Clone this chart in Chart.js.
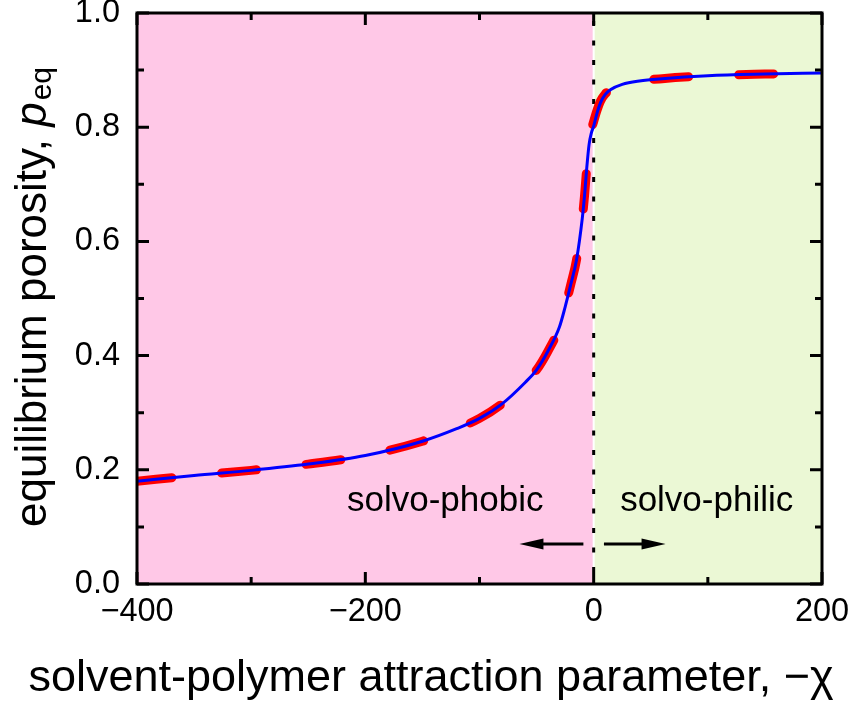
<!DOCTYPE html>
<html>
<head>
<meta charset="utf-8">
<script src="https://cdn.jsdelivr.net/npm/chart.js@4/dist/chart.umd.min.js"></script>
<style>
  html, body { margin: 0; padding: 0; background: #fff; }
  #wrap { width: 855px; height: 705px; }
</style>
</head>
<body>
<div id="wrap"><canvas id="chart" width="855" height="705"></canvas></div>
<script>
// Data
const chiValues = [-400, -350, -300, -250, -200, -150, -120, -100, -80, -60, -50, -40, -30, -25, -20, -15, -10, -8, -6, -4, -2, 0, 3, 6, 10, 15, 25, 40, 60, 100, 150, 200];
const porosityModel = [0.180, 0.190, 0.199, 0.210, 0.225, 0.250, 0.272, 0.290, 0.316, 0.353, 0.375, 0.408, 0.450, 0.485, 0.525, 0.568, 0.640, 0.680, 0.730, 0.770, 0.790, 0.802, 0.825, 0.843, 0.857, 0.866, 0.875, 0.881, 0.885, 0.890, 0.893, 0.895];
const porosityFit = [0.180, 0.190, 0.199, 0.210, 0.225, 0.250, 0.272, 0.290, 0.316, 0.353, 0.375, 0.408, 0.450, 0.485, 0.525, 0.568, 0.640, 0.680, 0.730, 0.770, 0.795, 0.810, 0.830, 0.846, 0.858, 0.866, 0.875, 0.881, 0.885, 0.890, 0.893, 0.895];

const xMajorTicks = [-400, -200, 0, 200];
const xMinorTicks = [-300, -100, 100];
const yMajorTicks = [0, 0.2, 0.4, 0.6, 0.8, 1.0];
const yMinorTicks = [0.1, 0.3, 0.5, 0.7, 0.9];

const regionLabels = ['solvo-phobic', 'solvo-philic'];

const FONT = "Arial, 'Liberation Sans', sans-serif";

function toPoints(ys) {
    return chiValues.map((x, i) => ({ x: x, y: ys[i] }));
}

const decorPlugin = {
    id: 'decor',
    beforeDatasetsDraw(chart) {
        const { ctx, chartArea: a, scales: { x, y } } = chart;
        const x0 = x.getPixelForValue(0);
        ctx.save();
        // background regions
        ctx.fillStyle = '#ffc8e7';
        ctx.fillRect(a.left, a.top, x0 - 1 - a.left, a.bottom - a.top);
        ctx.fillStyle = '#ebf8d5';
        ctx.fillRect(x0 + 1, a.top, a.right - x0 - 1, a.bottom - a.top);
        // dotted line at chi = 0
        ctx.strokeStyle = '#000';
        ctx.lineWidth = 3;
        ctx.setLineDash([5, 14.5]);
        ctx.beginPath();
        ctx.moveTo(x0, a.top + 8);
        ctx.lineTo(x0, a.bottom);
        ctx.stroke();
        ctx.restore();
    },
    afterDatasetsDraw(chart) {
        const { ctx, chartArea: a, scales: { x, y } } = chart;
        ctx.save();
        // frame
        ctx.strokeStyle = '#000';
        ctx.lineWidth = 3;
        ctx.strokeRect(a.left, a.top, a.right - a.left, a.bottom - a.top);

        // inward ticks on all four sides
        const tickX = (v, len) => {
            const px = x.getPixelForValue(v);
            ctx.beginPath();
            ctx.moveTo(px, a.bottom); ctx.lineTo(px, a.bottom - len);
            ctx.moveTo(px, a.top); ctx.lineTo(px, a.top + len);
            ctx.stroke();
        };
        const tickY = (v, len) => {
            const py = y.getPixelForValue(v);
            ctx.beginPath();
            ctx.moveTo(a.left, py); ctx.lineTo(a.left + len, py);
            ctx.moveTo(a.right, py); ctx.lineTo(a.right - len, py);
            ctx.stroke();
        };
        xMajorTicks.forEach(v => tickX(v, 12));
        xMinorTicks.forEach(v => tickX(v, 7));
        yMajorTicks.forEach(v => tickY(v, 12));
        yMinorTicks.forEach(v => tickY(v, 7));

        // region labels
        ctx.fillStyle = '#000';
        ctx.font = '35px ' + FONT;
        ctx.textAlign = 'center';
        ctx.textBaseline = 'alphabetic';
        ctx.fillText(regionLabels[0], x.getPixelForValue(-130), y.getPixelForValue(0.127));
        ctx.fillText(regionLabels[1], x.getPixelForValue(99), y.getPixelForValue(0.127));

        // arrows
        const arrow = (fromV, toV, yv) => {
            const x1 = x.getPixelForValue(fromV), x2 = x.getPixelForValue(toV);
            const py = y.getPixelForValue(yv);
            const dir = Math.sign(x2 - x1);
            ctx.lineWidth = 3;
            ctx.beginPath();
            ctx.moveTo(x1, py); ctx.lineTo(x2 - dir * 18, py);
            ctx.stroke();
            ctx.beginPath();
            ctx.moveTo(x2, py);
            ctx.lineTo(x2 - dir * 24, py - 5.5);
            ctx.lineTo(x2 - dir * 24, py + 5.5);
            ctx.closePath();
            ctx.fill();
        };
        arrow(-9, -65, 0.07);
        arrow(9, 63, 0.07);

        // axis titles
        ctx.font = '45px ' + FONT;
        ctx.textAlign = 'center';
        ctx.fillText('solvent-polymer attraction parameter, \u2212\u03c7', 431, 691);

        ctx.translate(46, 297);
        ctx.rotate(-Math.PI / 2);
        const main = 'equilibrium porosity, ';
        const fMain = '44px ' + FONT, fItal = 'italic 44px ' + FONT, fSub = '30px ' + FONT;
        ctx.font = fMain; const w1 = ctx.measureText(main).width;
        ctx.font = fItal; const w2 = ctx.measureText('p').width;
        ctx.font = fSub; const w3 = ctx.measureText('eq').width;
        let cx = -(w1 + w2 + w3 + 2) / 2;
        ctx.textAlign = 'left';
        ctx.font = fMain; ctx.fillText(main, cx, 0); cx += w1;
        ctx.font = fItal; ctx.fillText('p', cx, 0); cx += w2 + 2;
        ctx.font = fSub; ctx.fillText('eq', cx, 5);
        ctx.restore();
    }
};

const chart = new Chart(document.getElementById('chart'), {
    type: 'line',
    data: {
        datasets: [{
            label: 'model',
            data: toPoints(porosityModel),
            borderColor: '#0000ff',
            borderWidth: 3,
            pointRadius: 0,
            cubicInterpolationMode: 'monotone',
            order: 0
        }, {
            label: 'fit',
            data: toPoints(porosityFit),
            borderColor: '#ff0000',
            borderWidth: 9,
            borderDash: [35, 50],
            borderCapStyle: 'round',
            pointRadius: 0,
            cubicInterpolationMode: 'monotone',
            order: 1
        }]
    },
    options: {
        responsive: false,
        animation: false,
        events: [],
        layout: { padding: { top: 13, right: 33, left: 0, bottom: 0 } },
        plugins: {
            legend: { display: false },
            tooltip: { enabled: false }
        },
        scales: {
            x: {
                type: 'linear',
                min: -400,
                max: 200,
                grid: { display: false, drawTicks: false },
                border: { display: false },
                ticks: {
                    stepSize: 200,
                    padding: 9,
                    color: '#000',
                    font: { size: 32.5, family: FONT },
                    callback: v => String(v).replace('-', '\u2212')
                },
                afterFit: s => {
                    s.height = 121;
                    s.paddingLeft = 0;
                    s.paddingRight = 0;
                }
            },
            y: {
                min: 0,
                max: 1,
                grid: { display: false, drawTicks: false },
                border: { display: false },
                ticks: {
                    stepSize: 0.2,
                    padding: 17,
                    color: '#000',
                    font: { size: 32.5, family: FONT },
                    callback: v => v.toFixed(1)
                },
                afterFit: s => {
                    s.width = 137;
                    s.paddingTop = 0;
                    s.paddingBottom = 0;
                }
            }
        }
    },
    plugins: [decorPlugin]
});
</script>
</body>
</html>
